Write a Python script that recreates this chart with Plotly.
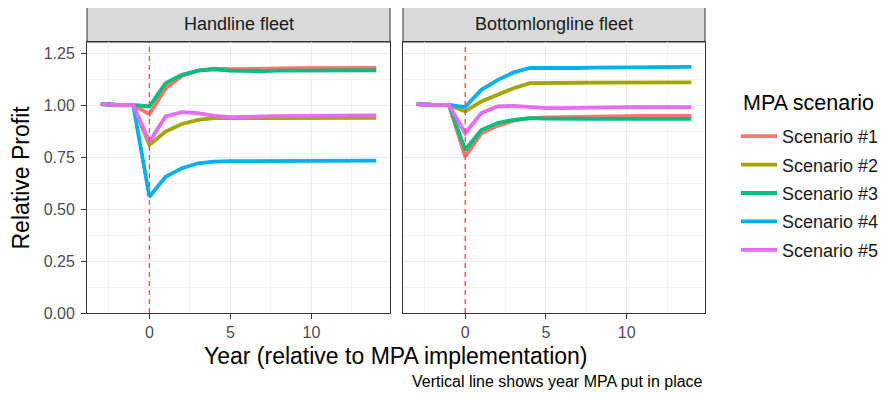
import plotly.graph_objects as go

# ---------------- data ----------------
years = [-3, -2, -1, 0, 1, 2, 3, 4, 5, 6, 7, 8, 9, 10, 11, 12, 13, 14]
scenarios = ["Scenario #1", "Scenario #2", "Scenario #3", "Scenario #4", "Scenario #5"]
fleets = ["Handline fleet", "Bottomlongline fleet"]

handline_s1 = [1.005, 1.0, 1.0, 0.956, 1.08, 1.14, 1.165, 1.175, 1.172, 1.172, 1.174, 1.176, 1.177, 1.178, 1.178, 1.178, 1.178, 1.178]
handline_s2 = [1.005, 1.0, 1.0, 0.808, 0.872, 0.909, 0.929, 0.937, 0.937, 0.937, 0.937, 0.938, 0.938, 0.938, 0.938, 0.938, 0.938, 0.938]
handline_s3 = [1.005, 1.0, 1.0, 0.993, 1.105, 1.145, 1.165, 1.172, 1.165, 1.162, 1.163, 1.165, 1.166, 1.167, 1.167, 1.167, 1.167, 1.167]
handline_s4 = [1.005, 1.0, 1.0, 0.559, 0.655, 0.696, 0.72, 0.728, 0.73, 0.73, 0.731, 0.732, 0.732, 0.733, 0.733, 0.733, 0.733, 0.733]
handline_s5 = [1.005, 1.0, 1.0, 0.824, 0.945, 0.966, 0.961, 0.948, 0.942, 0.942, 0.945, 0.947, 0.948, 0.949, 0.95, 0.95, 0.95, 0.95]

bottom_s1 = [1.005, 1.0, 1.0, 0.752, 0.864, 0.9, 0.925, 0.937, 0.94, 0.942, 0.944, 0.945, 0.946, 0.947, 0.948, 0.948, 0.948, 0.948]
bottom_s2 = [1.005, 1.0, 1.0, 0.969, 1.017, 1.049, 1.081, 1.105, 1.107, 1.107, 1.107, 1.108, 1.108, 1.109, 1.109, 1.109, 1.109, 1.109]
bottom_s3 = [1.005, 1.0, 1.0, 0.784, 0.88, 0.913, 0.929, 0.937, 0.935, 0.933, 0.933, 0.933, 0.933, 0.933, 0.933, 0.933, 0.933, 0.933]
bottom_s4 = [1.005, 1.0, 1.0, 0.99, 1.073, 1.12, 1.157, 1.178, 1.178, 1.176, 1.178, 1.18, 1.181, 1.182, 1.183, 1.183, 1.183, 1.183]
bottom_s5 = [1.005, 1.0, 1.0, 0.864, 0.961, 0.993, 0.996, 0.99, 0.985, 0.985, 0.987, 0.988, 0.989, 0.99, 0.99, 0.99, 0.99, 0.99]

y_ticks = [0.0, 0.25, 0.5, 0.75, 1.0, 1.25]
y_tick_labels = ["0.00", "0.25", "0.50", "0.75", "1.00", "1.25"]
x_ticks = [0, 5, 10]
mpa_year = 0

colors = ["#F8766D", "#A3A500", "#00BF7D", "#00B0F6", "#E76BF3"]

panels = [
    [handline_s1, handline_s2, handline_s3, handline_s4, handline_s5],
    [bottom_s1, bottom_s2, bottom_s3, bottom_s4, bottom_s5],
]

# ---------------- layout geometry (page pixels) ----------------
OFF = 8  # default page body margin
W, H = 888 - 2 * OFF, 398 - 2 * OFF
FONT = "Liberation Sans, Arial, Helvetica, sans-serif"

def px_x(p):
    return (p - OFF) / W

def px_y(p):
    return 1 - (p - OFF) / H

panel_x = [(87, 390), (403, 705)]
plot_top, plot_bottom = 42, 313
strip_top = 6

fig = go.Figure()

for pi, series in enumerate(panels):
    xa = "x" if pi == 0 else "x2"
    ya = "y" if pi == 0 else "y2"
    for si, vals in enumerate(series):
        fig.add_trace(go.Scatter(
            x=years, y=vals, mode="lines",
            name=scenarios[si], legendgroup=scenarios[si],
            showlegend=(pi == 0),
            line=dict(color=colors[si], width=3.8),
            xaxis=xa, yaxis=ya,
        ))

axis_common = dict(
    showline=True, linecolor="#333333", linewidth=1, mirror=True,
    ticks="outside", ticklen=5, tickcolor="#333333", tickwidth=1,
    showgrid=True, gridcolor="#EBEBEB", gridwidth=1,
    zeroline=False, automargin=False,
    tickfont=dict(family=FONT, size=16, color="#4D4D4D"),
)

for pi in range(2):
    xkey = "xaxis" if pi == 0 else "xaxis2"
    ykey = "yaxis" if pi == 0 else "yaxis2"
    x0, x1 = panel_x[pi]
    fig.update_layout({
        xkey: dict(
            axis_common,
            domain=[px_x(x0), px_x(x1)],
            range=[-3.85, 14.85],
            tickvals=x_ticks,
            anchor="y" if pi == 0 else "y2",
            minor=dict(dtick=2.5, tick0=-2.5, showgrid=True, gridcolor="#F3F3F3", gridwidth=0.6),
        ),
        ykey: dict(
            axis_common,
            domain=[px_y(plot_bottom), px_y(plot_top)],
            range=[0, 1.303],
            tickvals=y_ticks,
            ticktext=y_tick_labels,
            showticklabels=(pi == 0),
            ticks="outside" if pi == 0 else "",
            ticklabelstandoff=3,
            anchor="x" if pi == 0 else "x2",
            minor=dict(dtick=0.25, tick0=0.125, showgrid=True, gridcolor="#F3F3F3", gridwidth=0.6),
        ),
    })
    # strip header
    fig.add_shape(type="rect", xref="paper", yref="paper",
                  x0=px_x(x0), x1=px_x(x1), y0=px_y(plot_top), y1=px_y(strip_top),
                  fillcolor="#D9D9D9", line=dict(color="#333333", width=1), layer="below")
    fig.add_annotation(xref="paper", yref="paper",
                       x=(px_x(x0) + px_x(x1)) / 2, y=px_y((strip_top + plot_top) / 2),
                       text=fleets[pi], showarrow=False,
                       font=dict(family=FONT, size=18, color="#1A1A1A"),
                       xanchor="center", yanchor="middle")
    # vertical MPA line
    fig.add_shape(type="line", xref=("x" if pi == 0 else "x2"),
                  yref=("y domain" if pi == 0 else "y2 domain"),
                  x0=mpa_year, x1=mpa_year, y0=0, y1=1,
                  line=dict(color="#E8474B", width=1.2, dash="5px,4px"))

# axis titles, legend title and caption
fig.add_annotation(xref="paper", yref="paper", x=px_x(21), y=px_y((plot_top + plot_bottom) / 2),
                   text="Relative Profit", textangle=-90, showarrow=False,
                   font=dict(family=FONT, size=23, color="#000000"),
                   xanchor="center", yanchor="middle")
fig.add_annotation(xref="paper", yref="paper", x=px_x(396), y=px_y(356),
                   text="Year (relative to MPA implementation)", showarrow=False,
                   font=dict(family=FONT, size=23, color="#000000"),
                   xanchor="center", yanchor="middle")
fig.add_annotation(xref="paper", yref="paper", x=px_x(705), y=px_y(381),
                   text="Vertical line shows year MPA put in place", showarrow=False,
                   font=dict(family=FONT, size=16, color="#000000"),
                   xanchor="right", yanchor="middle")
fig.add_annotation(xref="paper", yref="paper", x=px_x(741), y=px_y(103),
                   text="MPA scenario", showarrow=False,
                   font=dict(family=FONT, size=21.5, color="#000000"),
                   xanchor="left", yanchor="middle")

fig.update_layout(
    width=W, height=H,
    margin=dict(l=0, r=0, t=0, b=0, autoexpand=False),
    paper_bgcolor="white", plot_bgcolor="white",
    font=dict(family=FONT),
    legend=dict(
        font=dict(family=FONT, size=18, color="#1A1A1A"),
        x=px_x(736), xanchor="left",
        y=px_y(118), yanchor="top",
        tracegroupgap=2,
        itemwidth=36,
        bgcolor="rgba(0,0,0,0)",
    ),
)

fig.write_html("out.html")
